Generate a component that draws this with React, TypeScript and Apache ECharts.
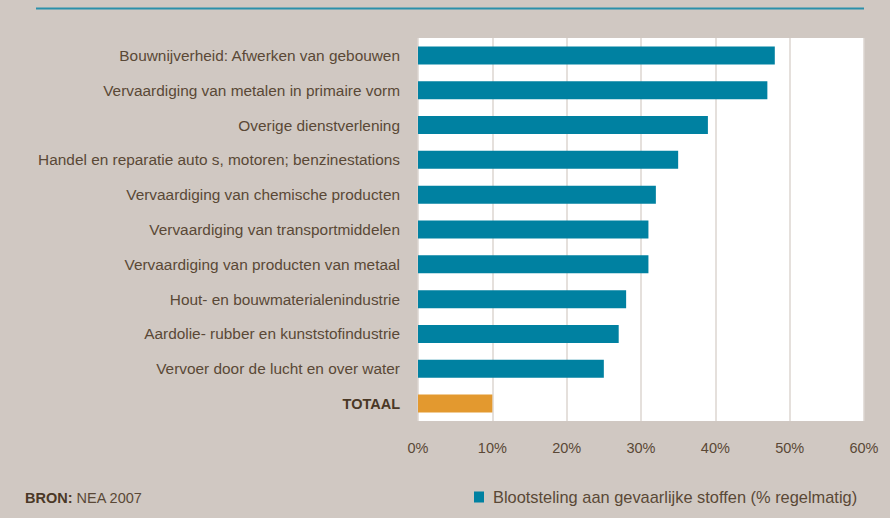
import React, { useEffect, useRef } from "react";
import * as echarts from "echarts";

const categories = [
  "Bouwnijverheid: Afwerken van gebouwen",
  "Vervaardiging van metalen in primaire vorm",
  "Overige dienstverlening",
  "Handel en reparatie auto s, motoren; benzinestations",
  "Vervaardiging van chemische producten",
  "Vervaardiging van transportmiddelen",
  "Vervaardiging van producten van metaal",
  "Hout- en bouwmaterialenindustrie",
  "Aardolie- rubber en kunststofindustrie",
  "Vervoer door de lucht en over water",
  "TOTAAL",
];
const values = [48, 47, 39, 35, 32, 31, 31, 28, 27, 25, 10];
const seriesName = "Blootsteling aan gevaarlijke stoffen (% regelmatig)";

const TEAL = "#0081a1";
const ORANGE = "#e3992f";
const TEXT = "#5a4836";
const FONT = "'Liberation Sans', Arial, sans-serif";

export default function App() {
  const ref = useRef<HTMLDivElement>(null);
  useEffect(() => {
    document.body.style.margin = "0";
    const chart = echarts.init(ref.current!, undefined, { renderer: "svg" });
    chart.setOption({
      animation: false,
      backgroundColor: "#d0c8c2",
      textStyle: { fontFamily: FONT },
      grid: {
        left: 418,
        right: 26,
        top: 38,
        bottom: 97,
        show: true,
        backgroundColor: "#ffffff",
        borderWidth: 0,
      },
      xAxis: {
        type: "value",
        min: 0,
        max: 60,
        interval: 10,
        axisLine: { show: false },
        axisTick: { show: false },
        axisLabel: {
          formatter: "{value}%",
          color: TEXT,
          fontSize: 14.5,
          fontFamily: FONT,
          margin: 19,
        },
        splitLine: { show: true, lineStyle: { color: "#ddd6d0", width: 1.5 } },
      },
      yAxis: {
        type: "category",
        inverse: true,
        data: categories,
        axisLine: { show: false },
        axisTick: { show: false },
        axisLabel: {
          color: TEXT,
          fontSize: 15.4,
          fontFamily: FONT,
          margin: 18,
          formatter: (v: string) => (v === "TOTAAL" ? "{b|TOTAAL}" : v),
          rich: {
            b: { fontWeight: "bold", color: "#4a3826", fontSize: 14.5, fontFamily: FONT },
          },
        },
      },
      legend: {
        left: 474,
        top: 489,
        padding: 0,
        icon: "rect",
        itemWidth: 10,
        itemHeight: 11,
        itemGap: 14,
        textStyle: { color: TEXT, fontSize: 16.4, fontFamily: FONT, padding: [0, 0, 0, 4] },
        data: [seriesName],
      },
      series: [
        {
          name: seriesName,
          type: "bar",
          barWidth: 18,
          itemStyle: { color: TEAL },
          data: values.map((v, i) =>
            categories[i] === "TOTAAL" ? { value: v, itemStyle: { color: ORANGE } } : v
          ),
        },
      ],
      graphic: [
        {
          type: "line",
          shape: { x1: 36, y1: 8.5, x2: 864, y2: 8.5 },
          style: { stroke: "#2a90aa", lineWidth: 2 },
        },
        {
          type: "text",
          left: 25,
          top: 490,
          style: {
            text: "{b|BRON:} NEA 2007",
            fill: TEXT,
            font: `14.5px ${FONT}`,
            rich: {
              b: { fontWeight: "bold", fill: "#4a3826", fontSize: 14.5, fontFamily: FONT },
            },
          },
        },
      ],
    });
    return () => chart.dispose();
  }, []);
  return <div ref={ref} style={{ width: 890, height: 518 }} />;
}
